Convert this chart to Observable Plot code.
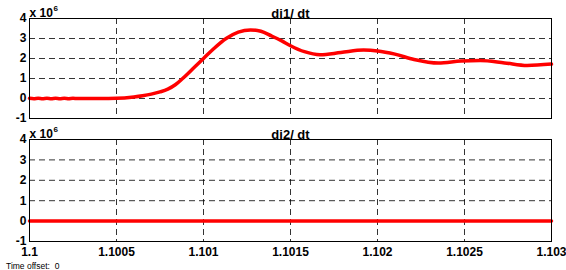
<!DOCTYPE html>
<html>
<head>
<meta charset="utf-8">
<script src="https://cdn.jsdelivr.net/npm/d3@7"></script>
<script src="https://cdn.jsdelivr.net/npm/@observablehq/plot@0.6"></script>
<style>
  html, body { margin: 0; padding: 0; background: #fff; }
  #wrap { position: relative; width: 566px; height: 270px; overflow: hidden; background: #fff; }
  #wrap svg { position: absolute; left: 0; overflow: visible; }
  #offset { position: absolute; left: 6px; top: 261px; font: 8.5px "Liberation Sans", Arial, sans-serif; white-space: pre; color: #000; }
</style>
</head>
<body>
<div id="wrap"></div>
<script>
// ---- data ----
const titles = ["di1/ dt", "di2/ dt"];
const scaleLabel = "x 10";
const scaleExp = "6";
const offsetText = "Time offset:  0";

const xTicks = [1.1, 1.1005, 1.101, 1.1015, 1.102, 1.1025, 1.103];
const xTickLabels = ["1.1", "1.1005", "1.101", "1.1015", "1.102", "1.1025", "1.103"];
const yTicks = [-1, 0, 1, 2, 3, 4];
const yTickLabels = ["-1", "0", "1", "2", "3", "4"];
const xGrid = [1.1005, 1.101, 1.1015, 1.102, 1.1025];
const yGrid = [0, 1, 2, 3];

// di1/dt (x 10^6)
const t1 = [1.1, 1.100025, 1.10005, 1.100075, 1.1001, 1.100125, 1.10015, 1.100175, 1.1002, 1.100225,
            1.10025, 1.100275, 1.1003, 1.10041, 1.1005, 1.1006, 1.10065, 1.1007, 1.10075, 1.100795,
            1.10084, 1.10088, 1.10094, 1.101, 1.10106, 1.10113, 1.10120, 1.10127, 1.10133, 1.10139,
            1.10145, 1.1015, 1.10158, 1.10167, 1.10179, 1.10192, 1.102, 1.1021, 1.10221, 1.10235,
            1.10248, 1.10259, 1.10273, 1.10286, 1.103];
const di1 = [0.01, -0.012, 0.012, -0.012, 0.012, -0.012, 0.012, -0.012, 0.01, -0.008,
             0.008, -0.005, 0.005, 0.0, 0.01, 0.08, 0.14, 0.22, 0.33, 0.47,
             0.7, 1.0, 1.5, 2.0, 2.5, 3.0, 3.32, 3.43, 3.36, 3.13,
             2.88, 2.64, 2.34, 2.19, 2.3, 2.42, 2.38, 2.22, 1.95, 1.77,
             1.87, 1.9, 1.78, 1.65, 1.72];

// di2/dt (x 10^6)
const t2 = [1.1, 1.1005, 1.101, 1.1015, 1.102, 1.1025, 1.103];
const di2 = [0, 0, 0, 0, 0, 0, 0];

// ---- drawing ----
const W = 566;
const font = '"Liberation Sans", Arial, sans-serif';
const tickFmt = d => xTickLabels[xTicks.indexOf(d)] ?? "";
const yFmt = d => yTickLabels[yTicks.indexOf(d)] ?? "";

function panel(t, v, title, showX, height, marginBottom) {
  const data = t.map((x, i) => ({x, y: v[i]}));
  return Plot.plot({
    width: W,
    height,
    marginTop: 18,
    marginBottom,
    marginLeft: 29,
    marginRight: 15,
    style: {fontFamily: font, fontSize: "12px", fontWeight: "bold", color: "#000", background: "transparent", overflow: "visible"},
    x: {domain: [1.1, 1.103], axis: null, label: null},
    y: {domain: [-1, 4], axis: null, label: null},
    marks: [
      Plot.ruleY(yGrid, {stroke: "#000", strokeOpacity: 0.8, strokeDasharray: "6,4"}),
      Plot.ruleX(xGrid, {stroke: "#000", strokeOpacity: 0.8, strokeDasharray: "6,4"}),
      Plot.axisY({ticks: yTicks, tickFormat: yFmt, tickSize: 0, tickPadding: 3, fontWeight: "bold", label: null}),
      showX ? Plot.axisX({ticks: xTicks, tickFormat: tickFmt, tickSize: 0, tickPadding: 6, fontWeight: "bold", label: null}) : null,
      Plot.line(data, {x: "x", y: "y", stroke: "#ff0000", strokeWidth: 3.5, curve: "monotone-x"}),
      Plot.frame({stroke: "#000", strokeWidth: 1}),
      Plot.text([title], {frameAnchor: "top", dy: -10, fontSize: 13, fontWeight: "bold"}),
      Plot.text([scaleLabel], {frameAnchor: "top-left", textAnchor: "start", dy: -10, fontSize: 12, fontWeight: "bold"}),
      Plot.text([scaleExp], {frameAnchor: "top-left", textAnchor: "start", dx: 24, dy: -13, fontSize: 8, fontWeight: "bold"})
    ]
  });
}

const wrap = document.getElementById("wrap");
const p1 = panel(t1, di1, titles[0], false, 121, 3);
p1.style.top = "0px";
const p2 = panel(t2, di2, titles[1], true, 140, 20);
p2.style.top = "121px";
wrap.appendChild(p1);
wrap.appendChild(p2);
const off = document.createElement("div");
off.id = "offset";
off.textContent = offsetText;
wrap.appendChild(off);
</script>
</body>
</html>
